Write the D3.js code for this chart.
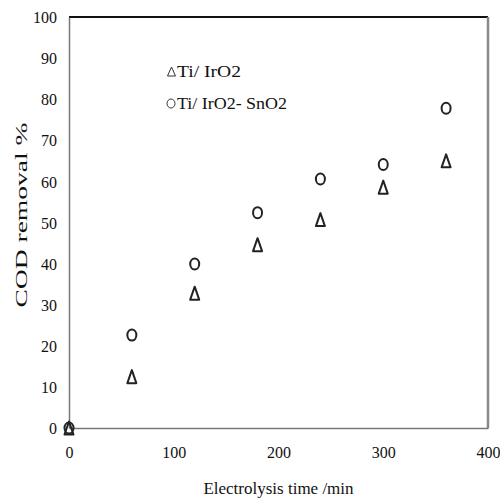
<!DOCTYPE html>
<html><head><meta charset="utf-8">
<script src="https://cdn.jsdelivr.net/npm/d3@7"></script>
<style>html,body{margin:0;padding:0;background:#fff;}svg{display:block;}</style>
</head><body>
<script>
const times = [0, 60, 120, 180, 240, 300, 360];
const seriesNames = ["Ti/ IrO2", "Ti/ IrO2- SnO2"];
const irO2 = [0, 12.5, 32.8, 44.6, 50.7, 58.6, 65.0];
const irO2SnO2 = [0, 22.6, 39.9, 52.4, 60.6, 64.1, 77.8];
const xTicks = [0, 100, 200, 300, 400];
const yTicks = [0, 10, 20, 30, 40, 50, 60, 70, 80, 90, 100];
const xTitle = "Electrolysis time /min";
const yTitle = "COD removal %";

const W = 500, H = 502;
const m = {left: 69, right: 12, top: 17, bottom: 74};
const svg = d3.select("body").append("svg").attr("width", W).attr("height", H);
const x = d3.scaleLinear().domain([0, 400]).range([m.left, W - m.right]);
const y = d3.scaleLinear().domain([0, 100]).range([H - m.bottom, m.top]);
const font = "'Liberation Serif','Times New Roman',serif";

// frame
svg.append("line").attr("x1", x(0)).attr("x2", x(400)).attr("y1", y(100)).attr("y2", y(100))
  .attr("stroke", "#111").attr("stroke-width", 2);
svg.append("line").attr("x1", x(400)).attr("x2", x(400)).attr("y1", y(100)).attr("y2", y(0))
  .attr("stroke", "#888").attr("stroke-width", 2.5);

// axes
const gx = svg.append("g").attr("transform", `translate(0,${y(0)})`)
  .call(d3.axisBottom(x).tickValues(xTicks).tickSize(0).tickPadding(19).tickFormat(d3.format("d")));
const gy = svg.append("g").attr("transform", `translate(${x(0)},0)`)
  .call(d3.axisLeft(y).tickValues(yTicks).tickSize(0).tickPadding(12).tickFormat(d3.format("d")));
[gx, gy].forEach(g => {
  g.select(".domain").attr("stroke", "#777").attr("stroke-width", 1.5);
  g.selectAll("text").attr("font-family", font).attr("font-size", 16).attr("fill", "#111");
});
gy.selectAll("text").attr("dy", "0.35em");

// titles
svg.append("text").attr("x", (x(0) + x(400)) / 2).attr("y", 494).attr("text-anchor", "middle")
  .attr("font-family", font).attr("font-size", 17).attr("fill", "#111").text(xTitle);
svg.append("text").attr("transform", `translate(27,215) rotate(-90)`).attr("text-anchor", "middle")
  .attr("font-family", font).attr("font-size", 17).attr("fill", "#111")
  .attr("textLength", 185).attr("lengthAdjust", "spacingAndGlyphs").text(yTitle);

// markers
const triPath = (cx, cy, hw, hh) => `M${cx},${cy - hh}L${cx + hw},${cy + hh}L${cx - hw},${cy + hh}Z`;
svg.append("g").selectAll("ellipse").data(times.map((t, i) => [t, irO2SnO2[i]])).join("ellipse")
  .attr("cx", d => x(d[0])).attr("cy", d => y(d[1])).attr("rx", 4.5).attr("ry", 5.5)
  .attr("fill", "none").attr("stroke", "#222").attr("stroke-width", 2);
svg.append("g").selectAll("path").data(times.map((t, i) => [t, irO2[i]])).join("path")
  .attr("d", d => triPath(x(d[0]), y(d[1]), 4.5, 6.5))
  .attr("fill", "none").attr("stroke", "#222").attr("stroke-width", 2).attr("stroke-linejoin", "round");

// legend
const leg = svg.append("g");
leg.append("path").attr("d", triPath(171.5, 71.5, 4, 4.5)).attr("fill", "none").attr("stroke", "#333").attr("stroke-width", 1);
leg.append("ellipse").attr("cx", 171).attr("cy", 103.5).attr("rx", 4).attr("ry", 4.5).attr("fill", "none").attr("stroke", "#333").attr("stroke-width", 1);
leg.append("text").attr("x", 177).attr("y", 77).attr("font-family", font).attr("font-size", 17).attr("fill", "#111")
  .attr("textLength", 64).attr("lengthAdjust", "spacingAndGlyphs").text(seriesNames[0]);
leg.append("text").attr("x", 177).attr("y", 109).attr("font-family", font).attr("font-size", 17).attr("fill", "#111")
  .attr("textLength", 110).attr("lengthAdjust", "spacingAndGlyphs").text(seriesNames[1]);
</script>
</body></html>
